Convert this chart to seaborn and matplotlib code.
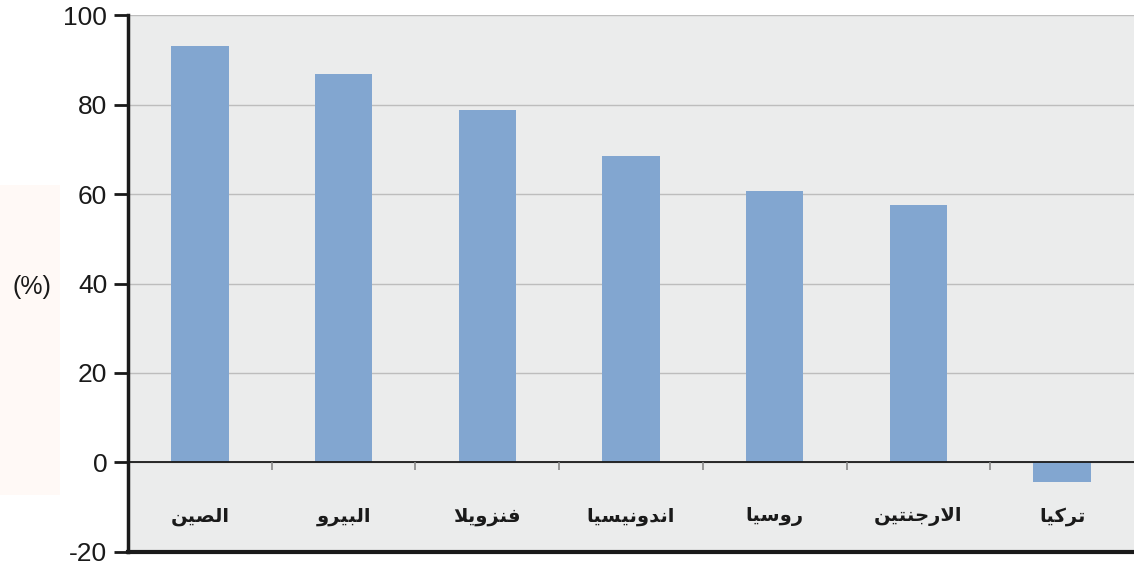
import matplotlib
matplotlib.use("Agg")
import matplotlib.pyplot as plt
import matplotlib.patches as mpatches
import seaborn as sb
import pandas as pd
import numpy as np

# data
countries = ["الصين", "البيرو", "فنزويلا", "اندونيسيا", "روسيا", "الارجنتين", "تركيا"]
values = [93.0, 86.8, 78.8, 68.5, 60.7, 57.6, -4.4]
y_ticks = [-20, 0, 20, 40, 60, 80, 100]

# matplotlib has no arabic shaping: map letters to presentation forms
# (isolated, final, initial, medial); None means the letter does not join forward
FORMS = {
    "ا": ("\uFE8D", "\uFE8E", None, None),
    "ب": ("\uFE8F", "\uFE90", "\uFE91", "\uFE92"),
    "ت": ("\uFE95", "\uFE96", "\uFE97", "\uFE98"),
    "ج": ("\uFE9D", "\uFE9E", "\uFE9F", "\uFEA0"),
    "د": ("\uFEA9", "\uFEAA", None, None),
    "ر": ("\uFEAD", "\uFEAE", None, None),
    "ز": ("\uFEAF", "\uFEB0", None, None),
    "س": ("\uFEB1", "\uFEB2", "\uFEB3", "\uFEB4"),
    "ص": ("\uFEB9", "\uFEBA", "\uFEBB", "\uFEBC"),
    "ف": ("\uFED1", "\uFED2", "\uFED3", "\uFED4"),
    "ك": ("\uFED9", "\uFEDA", "\uFEDB", "\uFEDC"),
    "ل": ("\uFEDD", "\uFEDE", "\uFEDF", "\uFEE0"),
    "ن": ("\uFEE5", "\uFEE6", "\uFEE7", "\uFEE8"),
    "و": ("\uFEED", "\uFEEE", None, None),
    "ي": ("\uFEF1", "\uFEF2", "\uFEF3", "\uFEF4"),
    "لا": ("\uFEFB", "\uFEFC", None, None),
}


def shape_arabic(word):
    units = []
    i = 0
    while i < len(word):
        if word[i] == "ل" and i + 1 < len(word) and word[i + 1] == "ا":
            units.append("لا")
            i += 2
        else:
            units.append(word[i])
            i += 1
    out = []
    for k, u in enumerate(units):
        iso, fin, ini, med = FORMS[u]
        prev_joins = k > 0 and FORMS[units[k - 1]][2] is not None
        next_joins = k + 1 < len(units) and ini is not None
        if prev_joins and next_joins:
            out.append(med)
        elif prev_joins:
            out.append(fin)
        elif next_joins:
            out.append(ini)
        else:
            out.append(iso)
    return "".join(reversed(out))


df = pd.DataFrame({"country": countries, "value": values})

sb.set_style("white")
plt.rcParams["font.family"] = ["Liberation Sans", "DejaVu Sans"]

fig = plt.figure(figsize=(11.34, 5.67), dpi=100)
# pale block behind the axis title
fig.patches.append(mpatches.Rectangle((0, 0.127), 0.053, 0.547, transform=fig.transFigure,
                                      facecolor="#FFF9F6", edgecolor="none", zorder=-1))
ax = fig.add_axes([0.1129, 0.0265, 0.8871, 0.947])
ax.set_facecolor("#EBECEC")

sb.barplot(data=df, x="country", y="value", color="#82A6D0", width=0.4,
           saturation=1, linewidth=0, edgecolor="none", ax=ax, zorder=3)

ax.set_ylim(-20, 100)
ax.set_xlim(-0.5, len(countries) - 0.5)
ax.set_yticks(y_ticks)
ax.set_yticklabels([str(t) for t in y_ticks], fontsize=19)
ax.tick_params(axis="y", left=True, length=10, width=2, color="#1a1a1a", pad=5, labelcolor="#1a1a1a")
ax.yaxis.grid(True, color="#BDBDBD", linewidth=1)
ax.set_axisbelow(True)

ax.set_xticks([])
ax.set_xlabel("")
ax.set_ylabel("(%)", fontsize=18, rotation=0, va="center", ha="center", color="#1a1a1a")
ax.yaxis.set_label_coords(-0.096, 0.494)

# category labels sit inside the plot, below the zero line
for i, name in enumerate(countries):
    ax.text(i, -12, shape_arabic(name), ha="center", va="center", fontsize=14,
            fontweight="bold", family="DejaVu Sans", color="#1a1a1a")

ax.axhline(0, color="#1a1a1a", linewidth=1.3, zorder=4)
ax.vlines(np.arange(len(countries) - 1) + 0.5, -1.6, 0, color="#888888", linewidth=1.2, zorder=4)

for side in ["top", "right"]:
    ax.spines[side].set_visible(False)
ax.spines["left"].set_linewidth(2.5)
ax.spines["left"].set_color("#1a1a1a")
ax.spines["bottom"].set_linewidth(3)
ax.spines["bottom"].set_color("#1a1a1a")

fig.savefig("out.png", dpi=100)
